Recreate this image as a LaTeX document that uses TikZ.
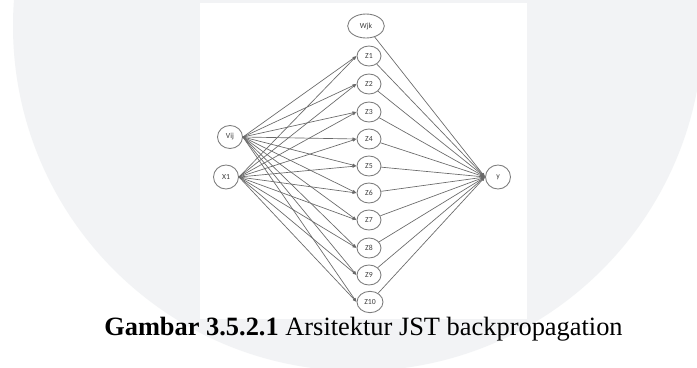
\documentclass[tikz,border=0pt]{standalone}
\usepackage{fontspec}
\setmainfont{Liberation Serif}
\newfontfamily\unitfont{Carlito}
\usetikzlibrary{arrows.meta,shapes.geometric}

\definecolor{markgray}{RGB}{242,243,245}
\definecolor{ringgray}{RGB}{125,125,125}
\definecolor{wiregray}{RGB}{105,105,105}
\definecolor{labelgray}{RGB}{60,60,60}

\begin{document}
\begin{tikzpicture}[x=0.75pt,y=0.75pt,yscale=-1,xscale=1,
  unit/.style={draw=ringgray,line width=0.65pt,ellipse,inner sep=0pt,
    text=labelgray,font=\unitfont\fontsize{5.8}{6}\selectfont},
  hidden/.style={unit,minimum width=18pt,minimum height=15pt},
  wire/.style={draw=wiregray,line width=0.5pt,-{Latex[length=3pt,width=2.4pt]}}]
\useasboundingbox (0,0) rectangle (697,368);

%Shape: page and faint disk behind the figure
\fill[white] (0,0) rectangle (697,368);
\begin{scope}
\clip (0,0) rectangle (697,368);
\fill[markgray] (358,26) circle (345);
\end{scope}
%Shape: white sheet of the network
\fill[white] (200,3) rectangle (527,319);

% Input units
\node[unit,minimum width=18.75pt,minimum height=17.25pt] (vij) at (230,137) {Vij};
\node[unit,minimum width=18.75pt,minimum height=18pt] (x1) at (226,177) {X1};
% Bias unit
\node[unit,minimum width=27.5pt,minimum height=18pt] (wjk) at (366,26) {Wjk};
% Hidden units
\node[hidden] (z1) at (369,56) {Z1};
\node[hidden] (z2) at (369,84) {Z2};
\node[hidden] (z3) at (369,112) {Z3};
\node[hidden] (z4) at (369,139) {Z4};
\node[hidden] (z5) at (369,166) {Z5};
\node[hidden] (z6) at (369,193) {Z6};
\node[hidden] (z7) at (369,220) {Z7};
\node[hidden] (z8) at (369,248) {Z8};
\node[hidden] (z9) at (369,275) {Z9};
\node[hidden,minimum width=19.5pt,minimum height=16pt] (z10) at (370,302) {Z10};
% Output unit
\node[unit,minimum width=18.75pt,minimum height=18pt] (y) at (498,177) {y};

%Straight Lines: Vij to hidden
\draw[wire] (vij.east) -- (z1.west);
\draw[wire] (vij.east) -- (z2.west);
\draw[wire] (vij.east) -- (z3.west);
\draw[wire] (vij.east) -- (z4.west);
\draw[wire] (vij.east) -- (z5.west);
\draw[wire] (vij.east) -- (z6.west);
\draw[wire] (vij.east) -- (z7.west);
\draw[wire] (vij.east) -- (z8.west);
\draw[wire] (vij.east) -- (z9.west);
\draw[wire] (vij.east) -- (z10.west);
%Straight Lines: X1 to hidden
\draw[wire] (x1.east) -- (z1.west);
\draw[wire] (x1.east) -- (z2.west);
\draw[wire] (x1.east) -- (z3.west);
\draw[wire] (x1.east) -- (z4.west);
\draw[wire] (x1.east) -- (z5.west);
\draw[wire] (x1.east) -- (z6.west);
\draw[wire] (x1.east) -- (z7.west);
\draw[wire] (x1.east) -- (z8.west);
\draw[wire] (x1.east) -- (z9.west);
\draw[wire] (x1.east) -- (z10.west);
%Straight Lines: hidden and Wjk to y
\draw[wire] (wjk) -- (y.west);
\draw[wire] (z1) -- (y.west);
\draw[wire] (z2) -- (y.west);
\draw[wire] (z3) -- (y.west);
\draw[wire] (z4) -- (y.west);
\draw[wire] (z5) -- (y.west);
\draw[wire] (z6) -- (y.west);
\draw[wire] (z7) -- (y.west);
\draw[wire] (z8) -- (y.west);
\draw[wire] (z9) -- (y.west);
\draw[wire] (z10) -- (y.west);

% Text Node
\node[anchor=base west,inner sep=0pt,font=\fontsize{19.8}{22}\selectfont] (caption) at (104,335)
  {\textbf{Gambar 3.5.2.1} Arsitektur JST backpropagation};

\end{tikzpicture}
\end{document}
